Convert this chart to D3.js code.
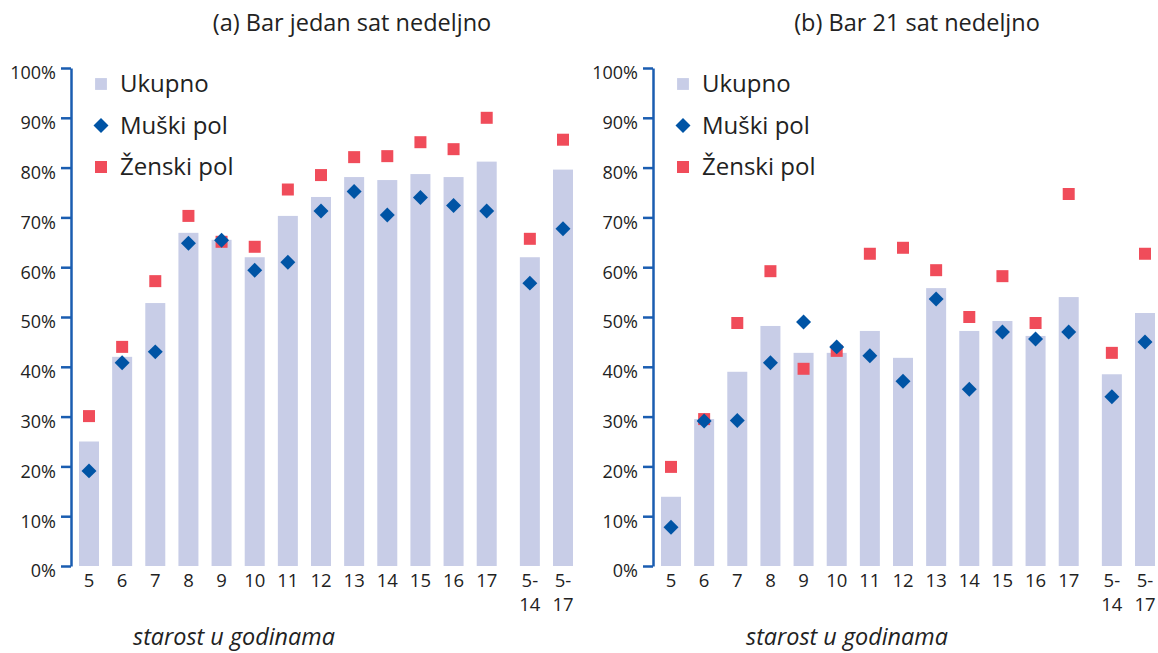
<!DOCTYPE html>
<html>
<head>
<meta charset="utf-8">
<script src="https://cdn.jsdelivr.net/npm/d3@7"></script>
<style>
  body { margin: 0; background: #fff; }
  svg { display: block; font-family: "Open Sans", "Noto Sans", sans-serif; }
</style>
</head>
<body>
<svg id="chart" width="1158" height="653"></svg>
<script>
"use strict"
/* Two panels: share of children in a bar, by age, total and by sex */

var ages = ["5","6","7","8","9","10","11","12","13","14","15","16","17","5-14","5-17"],
    seriesNames = ["Ukupno", "Muški pol", "Ženski pol"],
    panelTitles = ["(a) Bar jedan sat nedeljno", "(b) Bar 21 sat nedeljno"],
    axisTitle = "starost u godinama",
    yTicks = [0,10,20,30,40,50,60,70,80,90,100];

// (a) one hour per week
var ukupnoA = [25, 42, 52.8, 66.9, 65.5, 62, 70.3, 74.1, 78.1, 77.5, 78.7, 78.1, 81.2, 62, 79.6],
    muskiA  = [19.1, 40.8, 43, 64.8, 65.4, 59.4, 61, 71.3, 75.2, 70.5, 74, 72.4, 71.3, 56.8, 67.7],
    zenskiA = [30.1, 44, 57.2, 70.3, 65.1, 64.1, 75.6, 78.5, 82.1, 82.3, 85.1, 83.7, 90, 65.7, 85.6];

// (b) 21 hours per week
var ukupnoB = [13.9, 29.5, 39, 48.2, 42.8, 42.8, 47.2, 41.8, 55.8, 47.2, 49.2, 46.2, 54, 38.5, 50.8],
    muskiB  = [7.8, 29.1, 29.2, 40.8, 49, 44, 42.2, 37.1, 53.6, 35.5, 47, 45.6, 47, 34, 45],
    zenskiB = [19.9, 29.5, 48.8, 59.2, 39.6, 43.2, 62.7, 63.9, 59.4, 50, 58.2, 48.8, 74.7, 42.8, 62.7];

var colBar = "#c8cde7", colMale = "#0054a5", colFemale = "#f04c5a",
    colAxis = "#1a5db1", colText = "#222";

var svg = d3.select("svg#chart");

var y = d3.scaleLinear().domain([0, 100]).range([566, 68]);

var squareSym = d3.symbol().type(d3.symbolSquare).size(144),
    diamondSym = d3.symbol().type(d3.symbolSquare).size(112),
    legendBarSym = d3.symbol().type(d3.symbolSquare).size(140);

drawPanel(0, panelTitles[0], ukupnoA, muskiA, zenskiA, 352, 234);
drawPanel(582, panelTitles[1], ukupnoB, muskiB, zenskiB, 917, 847);

function drawPanel(dx, title, ukupno, muski, zenski, titleX, xTitleX) {
  var g = svg.append("g").attr("transform", "translate(" + dx + ",0)");
  // point scale for category centres, aggregates pushed right a bit
  var xp = d3.scalePoint().domain(ages).range([89, 553]);
  var x = function(d) { return xp(d) + (d.indexOf("-") > 0 ? 10 : 0); };
  var bw = 20;

  var rows = ages.map(function(a, i) {
    return {age: a, u: ukupno[i], m: muski[i], z: zenski[i]};
  });

  // bars
  g.append("g").selectAll("rect")
    .data(rows)
    .enter().append("rect")
      .attr("x", function(d) { return x(d.age) - bw / 2; })
      .attr("y", function(d) { return y(d.u); })
      .attr("width", bw)
      .attr("height", function(d) { return y(0) - y(d.u); })
      .attr("fill", colBar);

  // female squares
  g.append("g").selectAll("path")
    .data(rows)
    .enter().append("path")
      .attr("d", squareSym)
      .attr("transform", function(d) { return "translate(" + x(d.age) + "," + y(d.z) + ")"; })
      .attr("fill", colFemale);

  // male diamonds
  g.append("g").selectAll("path")
    .data(rows)
    .enter().append("path")
      .attr("d", diamondSym)
      .attr("transform", function(d) { return "translate(" + x(d.age) + "," + y(d.m) + ") rotate(45)"; })
      .attr("fill", colMale);

  // y axis
  var ax = g.append("g")
      .attr("transform", "translate(71,0)")
      .call(d3.axisLeft(y).tickValues(yTicks).tickSize(10).tickSizeOuter(0).tickPadding(5)
        .tickFormat(function(d) { return d + "%"; }));
  ax.select(".domain").attr("stroke", colAxis).attr("stroke-width", 2.5);
  ax.selectAll(".tick line").attr("stroke", colAxis).attr("stroke-width", 2.5);
  ax.selectAll(".tick text")
    .attr("fill", colText)
    .attr("dy", "0.6em")
    .style("font-size", "18px")
    .style("font-family", "'Open Sans', sans-serif");

  // x labels, wrapped after the hyphen
  var xl = g.append("g").selectAll("text")
    .data(ages)
    .enter().append("text")
      .attr("x", function(d) { return x(d); })
      .attr("y", 587)
      .attr("text-anchor", "middle")
      .attr("fill", colText)
      .style("font-size", "18.5px");
  xl.each(function(d) {
    var parts = d.indexOf("-") > 0 ? [d.split("-")[0] + "-", d.split("-")[1]] : [d];
    var t = d3.select(this);
    parts.forEach(function(p, i) {
      t.append("tspan").attr("x", x(d)).attr("dy", i ? 24 : 0).text(p);
    });
  });

  // legend
  var lg = g.append("g");
  var syms = [legendBarSym, diamondSym, squareSym],
      cols = [colBar, colMale, colFemale];
  seriesNames.forEach(function(name, i) {
    var ly = 84 + i * 41.5;
    lg.append("path")
      .attr("d", syms[i])
      .attr("transform", "translate(101," + ly + ")" + (i == 1 ? " rotate(45)" : ""))
      .attr("fill", cols[i]);
    lg.append("text")
      .attr("x", 120)
      .attr("y", ly)
      .attr("dy", "0.35em")
      .attr("fill", colText)
      .style("font-size", "24px")
      .text(name);
  });

  // titles
  svg.append("text")
    .attr("x", titleX)
    .attr("y", 31)
    .attr("text-anchor", "middle")
    .attr("fill", colText)
    .style("font-size", "23.5px")
    .text(title);

  svg.append("text")
    .attr("x", xTitleX)
    .attr("y", 645)
    .attr("text-anchor", "middle")
    .attr("fill", colText)
    .style("font-size", "23.4px")
    .style("font-style", "italic")
    .text(axisTitle);
}
</script>
</body>
</html>
